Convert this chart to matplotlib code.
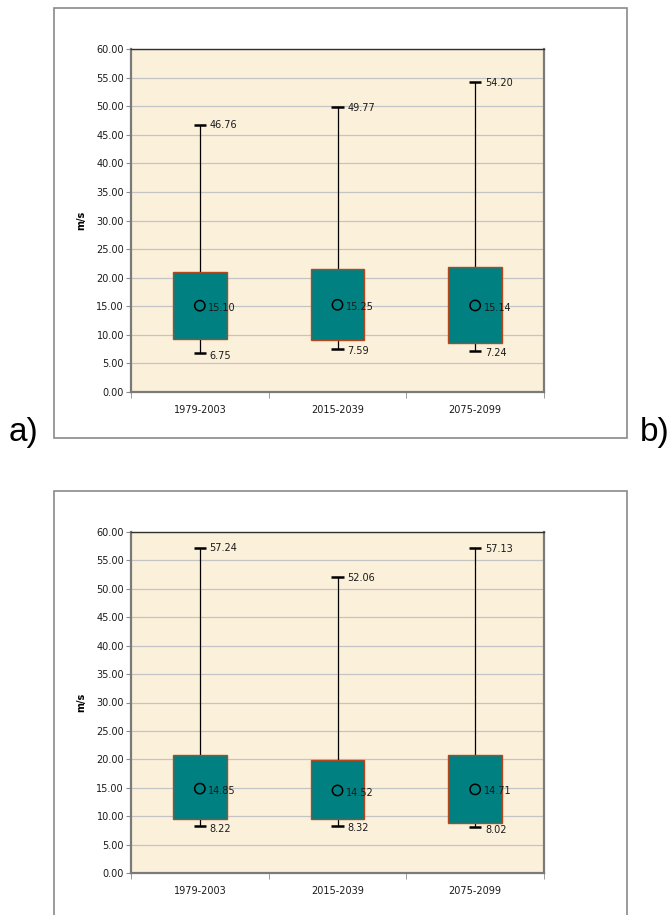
import numpy as np
import matplotlib
matplotlib.use('Agg')
import matplotlib.pyplot as plt
from matplotlib.patches import Rectangle
from matplotlib.ticker import FormatStrFormatter, MultipleLocator, FixedLocator

periods = ['1979-2003', '2015-2039', '2075-2099']

# panel a)
a_max = [46.76, 49.77, 54.20]
a_q3 = [21.05, 21.46, 21.80]
a_mean = [15.10, 15.25, 15.14]
a_q1 = [9.35, 9.06, 8.65]
a_min = [6.75, 7.59, 7.24]

# panel b)
b_max = [57.24, 52.06, 57.13]
b_q3 = [20.70, 19.90, 20.80]
b_mean = [14.85, 14.52, 14.71]
b_q1 = [9.45, 9.45, 8.80]
b_min = [8.22, 8.32, 8.02]

W, H = 669, 915
fig = plt.figure(figsize=(W / 100, H / 100), dpi=100)


def frac_x(px):
    return px / W


def frac_y(px):
    return 1 - px / H


def draw_panel(ax, vmax, q3, mean, q1, vmin):
    x = np.arange(len(periods))
    ax.set_facecolor('#fbf0da')
    ax.set_xlim(-0.5, len(periods) - 0.5)
    ax.set_ylim(0, 60)
    ax.yaxis.set_major_locator(MultipleLocator(5))
    ax.yaxis.set_major_formatter(FormatStrFormatter('%.2f'))
    ax.grid(axis='y', color='#c4c4c4', lw=0.9)
    ax.set_axisbelow(True)

    # whiskers and caps
    ax.vlines(x, q3, vmax, color='black', lw=0.9, zorder=2)
    ax.vlines(x, vmin, q1, color='black', lw=0.9, zorder=2)
    ax.hlines(vmax, x - 0.045, x + 0.045, color='black', lw=1.8, zorder=3)
    ax.hlines(vmin, x - 0.045, x + 0.045, color='black', lw=1.8, zorder=3)
    # boxes
    ax.bar(x, np.array(q3) - np.array(q1), bottom=q1, width=0.39,
           color='#008080', edgecolor='#b5471c', lw=1.0, zorder=3)
    # means
    ax.scatter(x, mean, s=55, facecolors='none', edgecolors='black',
               linewidths=1.1, zorder=4)

    for i in range(len(periods)):
        ax.annotate(f'{mean[i]:.2f}', (x[i], mean[i]), xytext=(6, -1.5),
                    textcoords='offset points', va='center', ha='left',
                    fontsize=7, color='#1a1a1a', zorder=5)
        ax.annotate(f'{vmax[i]:.2f}', (x[i], vmax[i]), xytext=(7, -0.5),
                    textcoords='offset points', va='center', ha='left',
                    fontsize=7, color='#1a1a1a', zorder=5)
        ax.annotate(f'{vmin[i]:.2f}', (x[i], vmin[i]), xytext=(7, -2),
                    textcoords='offset points', va='center', ha='left',
                    fontsize=7, color='#1a1a1a', zorder=5)

    ax.set_xticks(x)
    ax.set_xticklabels(periods)
    ax.xaxis.set_minor_locator(FixedLocator(np.arange(len(periods) + 1) - 0.5))
    ax.tick_params(axis='x', which='major', length=0, pad=9, labelsize=7,
                   labelcolor='#1a1a1a')
    ax.tick_params(axis='x', which='minor', length=4, color='#8c8c8c',
                   direction='out')
    ax.tick_params(axis='y', length=3.5, color='#8c8c8c', pad=1.5,
                   labelsize=7, labelcolor='#1a1a1a')
    ax.set_ylabel('m/s', fontsize=7, fontweight='bold', labelpad=7)

    for side in ['left', 'bottom', 'right']:
        ax.spines[side].set_color('#7a7a7a')
        ax.spines[side].set_linewidth(1.6)
    ax.spines['top'].set_color('#303030')
    ax.spines['top'].set_linewidth(1.0)


# outer frames
fig.patches.append(Rectangle((frac_x(53.5), frac_y(438)), frac_x(573.5),
                             (438 - 8) / H, transform=fig.transFigure,
                             fill=False, edgecolor='#8a8a8a', lw=1.2))
fig.patches.append(Rectangle((frac_x(53.5), -0.01), frac_x(573.5),
                             frac_y(491) + 0.01, transform=fig.transFigure,
                             fill=False, edgecolor='#8a8a8a', lw=1.2))

ax1 = fig.add_axes([frac_x(131), frac_y(392), (544 - 131) / W, (392 - 49) / H])
draw_panel(ax1, a_max, a_q3, a_mean, a_q1, a_min)

ax2 = fig.add_axes([frac_x(131), frac_y(873), (544 - 131) / W, (873 - 532) / H])
draw_panel(ax2, b_max, b_q3, b_mean, b_q1, b_min)

fig.text(frac_x(24), frac_y(432), 'a)', fontsize=24, family='Liberation Sans',
         ha='center', va='center')
fig.text(frac_x(655), frac_y(432), 'b)', fontsize=24, family='Liberation Sans',
         ha='center', va='center')

fig.savefig('out.png', dpi=100)
